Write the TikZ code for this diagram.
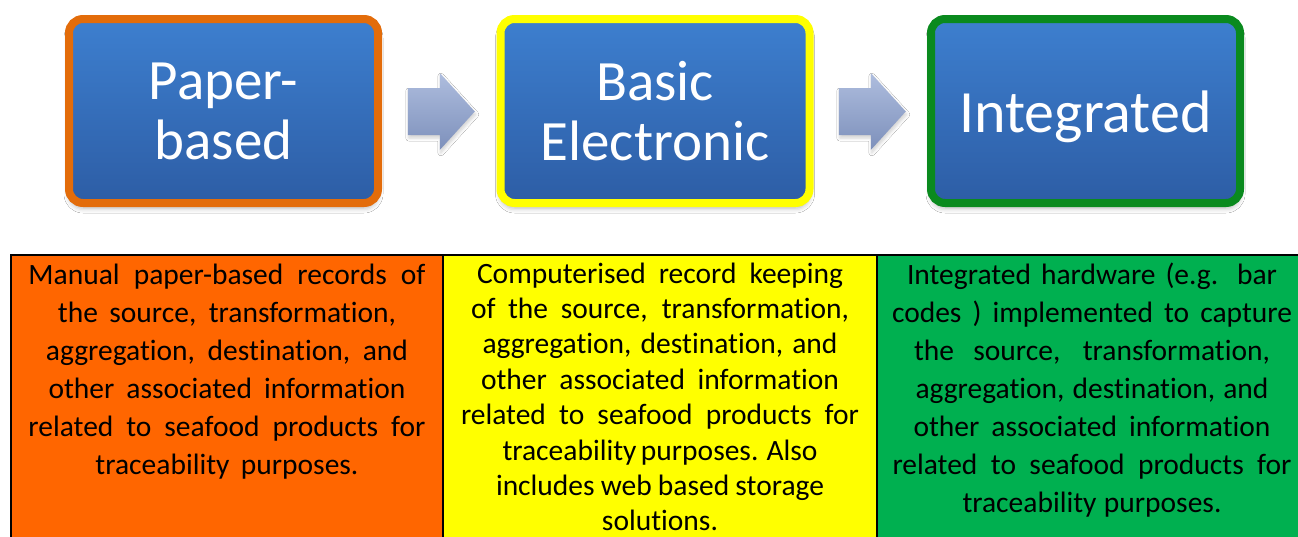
\documentclass[tikz,border=0pt]{standalone}
\usepackage{fontspec}
\setmainfont{Carlito}[Ligatures=NoCommon]
\usetikzlibrary{shadows.blur,calc}

\definecolor{boxtop}{HTML}{3D7FCF}
\definecolor{boxbot}{HTML}{2D5DA5}
\definecolor{rimorange}{HTML}{E36C0A}
\definecolor{rimyellow}{HTML}{FFFF00}
\definecolor{rimgreen}{HTML}{0A8A1E}
\definecolor{arrtop}{HTML}{AEBDDE}
\definecolor{arrbot}{HTML}{7D90BB}
\definecolor{cellorange}{HTML}{FF6600}
\definecolor{cellyellow}{HTML}{FFFF00}
\definecolor{cellgreen}{HTML}{00B050}

% one justified line of a description, stretched to a given width (pt)
\newcommand{\jline}[2]{\makebox[#1pt][s]{#2}}

\tikzset{
  stage/.style={rectangle, rounded corners=14pt, line width=8pt,
    minimum width=309pt, minimum height=184pt,
    top color=boxtop, bottom color=boxbot, text=white, align=center,
    font=\fontsize{57}{60}\selectfont,
    blur shadow={shadow xshift=0pt, shadow yshift=-5pt,
      shadow blur radius=5pt, shadow opacity=30}},
  cell/.style={rectangle, draw=black, line width=2pt, minimum width=#1,
    minimum height=345pt, inner sep=0pt, outer sep=0pt},
  celltext/.style={anchor=base, inner sep=0pt, text=black},
  blockarrow/.pic={
    \shade[top color=arrtop, bottom color=arrbot,
      blur shadow={shadow xshift=1pt, shadow yshift=-3pt,
        shadow blur radius=3pt, shadow opacity=18}]
      (-33.5,-23.5) -- (-1.5,-23.5) -- (-1.5,-38.5) -- (33.5,0)
      -- (-1.5,38.5) -- (-1.5,23.5) -- (-33.5,23.5) -- cycle;
  }
}

\begin{document}
\begin{tikzpicture}[x=1pt,y=-1pt]
  \useasboundingbox[fill=white] (0,0) rectangle (1298,536);

  % the three stages
  \node[stage, draw=rimorange] (p) at (223.5,111) {Paper-\\based};
  \node[stage, draw=rimyellow] (b) at (655,111) {Basic\\Electronic};
  \node[stage, draw=rimgreen, font=\fontsize{60}{60}\selectfont,
        text height=43pt, text depth=0pt] (i) at (1085.5,111) {Integrated};

  % block arrows between the stages
  \coordinate (m1) at ($(p.east)!0.5!(b.west)$);
  \coordinate (m2) at ($(b.east)!0.5!(i.west)$);
  \pic at ($(m1)+(2,0.5)$) {blockarrow};
  \pic at ($(m2)+(2,0.5)$) {blockarrow};

  % description table
  \node[cell=432pt, fill=cellorange, anchor=north west] (c1) at (11,255) {};
  \node[cell=434pt, fill=cellyellow, anchor=north west] (c2) at (c1.north east) {};
  \node[cell=433pt, fill=cellgreen,  anchor=north west] (c3) at (c2.north east) {};

  \node[celltext] (t1) at (227,284) {\parbox[t]{430pt}{\centering
    \fontsize{29.5}{38}\selectfont
    \jline{397}{Manual paper-based records of}\\
    \jline{338}{the source, transformation,}\\
    \jline{362}{aggregation, destination, and}\\
    \jline{357}{other associated information}\\
    \jline{397}{related to seafood products for}\\
    \jline{263}{traceability purposes.}}};

  \node[celltext] (t2) at (660,283) {\parbox[t]{430pt}{\centering
    \fontsize{29.5}{35.4}\selectfont
    \jline{366}{Computerised record keeping}\\
    \jline{378}{of the source, transformation,}\\
    \jline{355}{aggregation, destination, and}\\
    \jline{358}{other associated information}\\
    \jline{398}{related to seafood products for}\\
    \jline{315}{traceability purposes. Also}\\
    \jline{328}{includes web based storage}\\
    solutions.}};

  \node[celltext] (t3) at (1092,284) {\parbox[t]{430pt}{\centering
    \fontsize{29.5}{38}\selectfont
    \jline{370}{Integrated hardware (e.g. bar}\\
    \jline{400}{codes ) implemented to capture}\\
    \jline{356}{the source, transformation,}\\
    \jline{353}{aggregation, destination, and}\\
    \jline{357}{other associated information}\\
    \jline{399}{related to seafood products for}\\
    \jline{259}{traceability purposes.}}};
\end{tikzpicture}
\end{document}
